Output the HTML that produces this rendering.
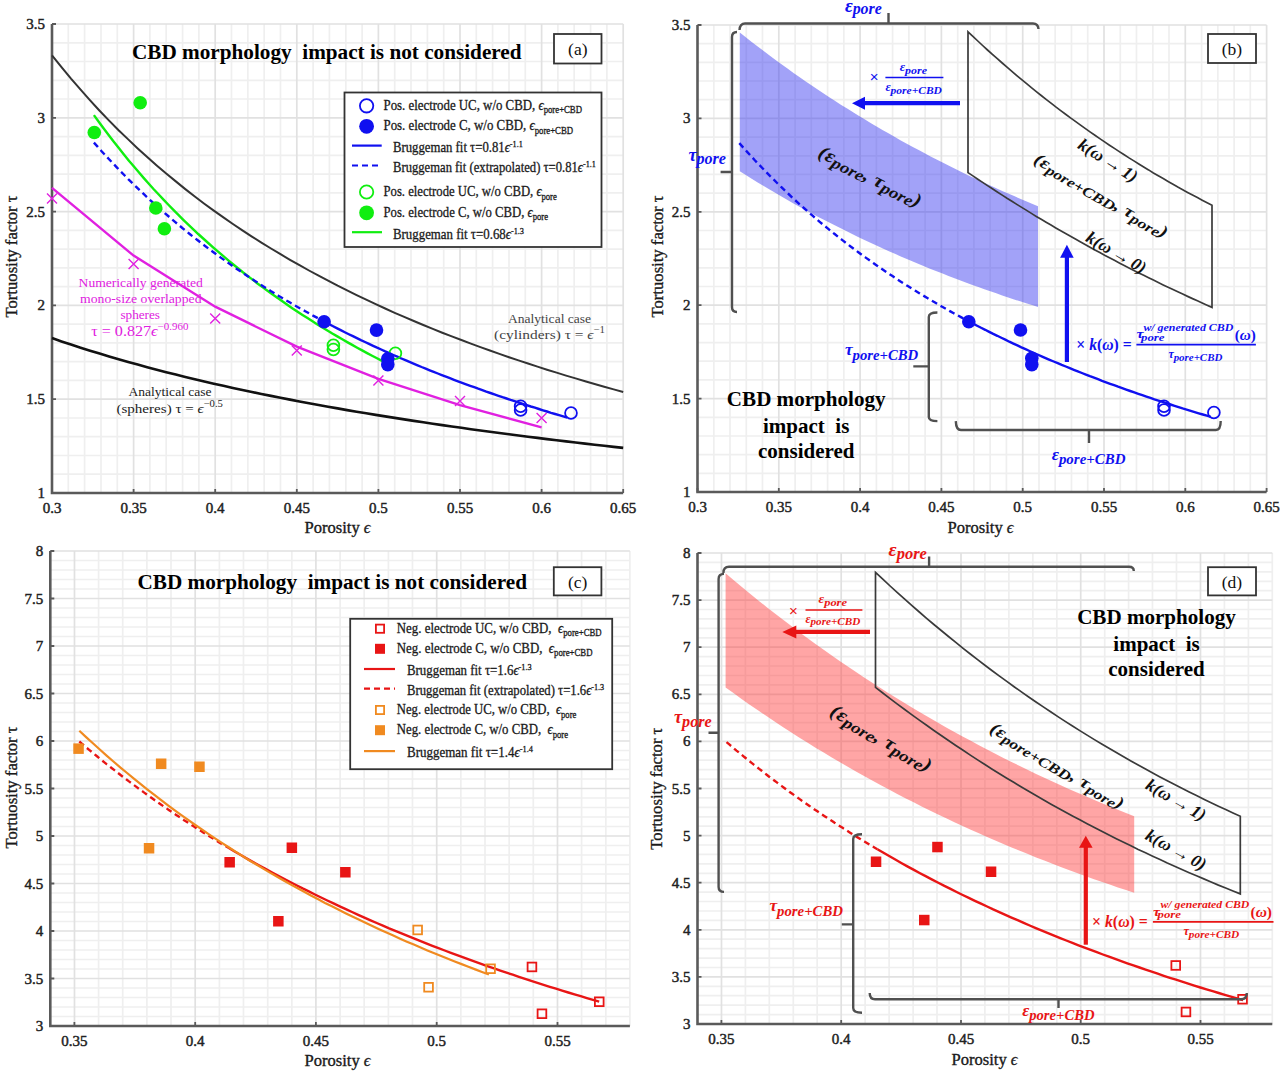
<!DOCTYPE html>
<html><head><meta charset="utf-8"><style>
html,body{margin:0;padding:0;background:#fff;}
svg{display:block;}
</style></head><body>
<svg width="1280" height="1072" viewBox="0 0 1280 1072" style='font-family:"Liberation Serif", serif'>
<rect width="1280" height="1072" fill="#fff"/>
<path d="M68.3 24.0V493.0M84.6 24.0V493.0M101.0 24.0V493.0M117.3 24.0V493.0M149.9 24.0V493.0M166.2 24.0V493.0M182.6 24.0V493.0M198.9 24.0V493.0M231.5 24.0V493.0M247.8 24.0V493.0M264.2 24.0V493.0M280.5 24.0V493.0M313.1 24.0V493.0M329.4 24.0V493.0M345.8 24.0V493.0M362.1 24.0V493.0M394.7 24.0V493.0M411.0 24.0V493.0M427.4 24.0V493.0M443.7 24.0V493.0M476.3 24.0V493.0M492.6 24.0V493.0M509.0 24.0V493.0M525.3 24.0V493.0M557.9 24.0V493.0M574.2 24.0V493.0M590.6 24.0V493.0M606.9 24.0V493.0M52.0 474.2H623.2M52.0 455.5H623.2M52.0 436.7H623.2M52.0 418.0H623.2M52.0 380.4H623.2M52.0 361.7H623.2M52.0 342.9H623.2M52.0 324.2H623.2M52.0 286.6H623.2M52.0 267.9H623.2M52.0 249.1H623.2M52.0 230.4H623.2M52.0 192.8H623.2M52.0 174.1H623.2M52.0 155.3H623.2M52.0 136.6H623.2M52.0 99.0H623.2M52.0 80.3H623.2M52.0 61.5H623.2M52.0 42.8H623.2" stroke="#efefef" stroke-width="1.7" fill="none"/>
<path d="M133.6 24.0V493.0M215.2 24.0V493.0M296.8 24.0V493.0M378.4 24.0V493.0M460.0 24.0V493.0M541.6 24.0V493.0M623.2 24.0V493.0M52.0 399.2H623.2M52.0 305.4H623.2M52.0 211.6H623.2M52.0 117.8H623.2M52.0 24.0H623.2" stroke="#e1e1e1" stroke-width="1.7" fill="none"/>
<path d="M52.0 24.0V493.0H623.2" stroke="#5a5a5a" stroke-width="2.6" fill="none"/>
<path d="M52.0 493.0V489.0M133.6 493.0V489.0M215.2 493.0V489.0M296.8 493.0V489.0M378.4 493.0V489.0M460.0 493.0V489.0M541.6 493.0V489.0M623.2 493.0V489.0M52.0 493.0H56.0M52.0 399.2H56.0M52.0 305.4H56.0M52.0 211.6H56.0M52.0 117.8H56.0M52.0 24.0H56.0" stroke="#5a5a5a" stroke-width="1.8" fill="none"/>
<text x="52.0" y="513.0" font-size="15" text-anchor="middle" fill="#222" stroke="#222" stroke-width="0.45">0.3</text>
<text x="133.6" y="513.0" font-size="15" text-anchor="middle" fill="#222" stroke="#222" stroke-width="0.45">0.35</text>
<text x="215.2" y="513.0" font-size="15" text-anchor="middle" fill="#222" stroke="#222" stroke-width="0.45">0.4</text>
<text x="296.8" y="513.0" font-size="15" text-anchor="middle" fill="#222" stroke="#222" stroke-width="0.45">0.45</text>
<text x="378.4" y="513.0" font-size="15" text-anchor="middle" fill="#222" stroke="#222" stroke-width="0.45">0.5</text>
<text x="460.0" y="513.0" font-size="15" text-anchor="middle" fill="#222" stroke="#222" stroke-width="0.45">0.55</text>
<text x="541.6" y="513.0" font-size="15" text-anchor="middle" fill="#222" stroke="#222" stroke-width="0.45">0.6</text>
<text x="623.2" y="513.0" font-size="15" text-anchor="middle" fill="#222" stroke="#222" stroke-width="0.45">0.65</text>
<text x="45.0" y="498.0" font-size="15" text-anchor="end" fill="#222" stroke="#222" stroke-width="0.45">1</text>
<text x="45.0" y="404.2" font-size="15" text-anchor="end" fill="#222" stroke="#222" stroke-width="0.45">1.5</text>
<text x="45.0" y="310.4" font-size="15" text-anchor="end" fill="#222" stroke="#222" stroke-width="0.45">2</text>
<text x="45.0" y="216.6" font-size="15" text-anchor="end" fill="#222" stroke="#222" stroke-width="0.45">2.5</text>
<text x="45.0" y="122.8" font-size="15" text-anchor="end" fill="#222" stroke="#222" stroke-width="0.45">3</text>
<text x="45.0" y="29.0" font-size="15" text-anchor="end" fill="#222" stroke="#222" stroke-width="0.45">3.5</text>
<polyline points="52.0,55.3 61.5,67.2 71.0,78.7 80.6,89.7 90.1,100.4 99.6,110.7 109.1,120.6 118.6,130.2 128.2,139.4 137.7,148.4 147.2,157.1 156.7,165.5 166.2,173.6 175.8,181.4 185.3,189.1 194.8,196.5 204.3,203.7 213.8,210.6 223.4,217.4 232.9,224.0 242.4,230.4 251.9,236.6 261.4,242.6 271.0,248.5 280.5,254.2 290.0,259.8 299.5,265.2 309.0,270.5 318.6,275.7 328.1,280.7 337.6,285.7 347.1,290.4 356.6,295.1 366.2,299.7 375.7,304.1 385.2,308.5 394.7,312.8 404.2,316.9 413.8,321.0 423.3,325.0 432.8,328.9 442.3,332.7 451.8,336.4 461.4,340.0 470.9,343.6 480.4,347.1 489.9,350.5 499.4,353.9 509.0,357.2 518.5,360.4 528.0,363.5 537.5,366.6 547.0,369.7 556.6,372.6 566.1,375.6 575.6,378.4 585.1,381.2 594.6,384.0 604.2,386.7 613.7,389.4 623.2,392.0" fill="none" stroke="#333" stroke-width="2.0" />
<polyline points="52.0,338.1 61.5,341.4 71.0,344.6 80.6,347.7 90.1,350.7 99.6,353.6 109.1,356.5 118.6,359.3 128.2,362.0 137.7,364.6 147.2,367.2 156.7,369.7 166.2,372.2 175.8,374.6 185.3,376.9 194.8,379.2 204.3,381.5 213.8,383.7 223.4,385.8 232.9,387.9 242.4,390.0 251.9,392.0 261.4,394.0 271.0,395.9 280.5,397.8 290.0,399.6 299.5,401.5 309.0,403.2 318.6,405.0 328.1,406.7 337.6,408.4 347.1,410.1 356.6,411.7 366.2,413.3 375.7,414.9 385.2,416.4 394.7,417.9 404.2,419.4 413.8,420.9 423.3,422.3 432.8,423.7 442.3,425.1 451.8,426.5 461.4,427.8 470.9,429.2 480.4,430.5 489.9,431.8 499.4,433.0 509.0,434.3 518.5,435.5 528.0,436.7 537.5,437.9 547.0,439.1 556.6,440.2 566.1,441.4 575.6,442.5 585.1,443.6 594.6,444.7 604.2,445.8 613.7,446.9 623.2,447.9" fill="none" stroke="#111" stroke-width="2.6" />
<polyline points="52.0,187.8 133.6,255.6 215.2,306.7 296.8,346.7 378.4,378.8 460.0,405.2 541.6,427.3" fill="none" stroke="#e020e0" stroke-width="2.4" />
<path d="M47.0 193.5L57.0 203.5M47.0 203.5L57.0 193.5" stroke="#e020e0" stroke-width="1.4" fill="none"/>
<path d="M128.6 259.1L138.6 269.1M128.6 269.1L138.6 259.1" stroke="#e020e0" stroke-width="1.4" fill="none"/>
<path d="M210.2 313.5L220.2 323.5M210.2 323.5L220.2 313.5" stroke="#e020e0" stroke-width="1.4" fill="none"/>
<path d="M291.8 345.4L301.8 355.4M291.8 355.4L301.8 345.4" stroke="#e020e0" stroke-width="1.4" fill="none"/>
<path d="M373.4 375.4L383.4 385.4M373.4 385.4L383.4 375.4" stroke="#e020e0" stroke-width="1.4" fill="none"/>
<path d="M455.0 396.1L465.0 406.1M455.0 406.1L465.0 396.1" stroke="#e020e0" stroke-width="1.4" fill="none"/>
<path d="M536.6 413.0L546.6 423.0M536.6 423.0L546.6 413.0" stroke="#e020e0" stroke-width="1.4" fill="none"/>
<polyline points="93.9,115.1 98.9,122.0 103.9,128.7 108.8,135.3 113.8,141.8 118.8,148.1 123.7,154.3 128.7,160.4 133.7,166.3 138.6,172.1 143.6,177.9 148.6,183.5 153.5,189.0 158.5,194.3 163.5,199.6 168.4,204.8 173.4,209.9 178.4,214.9 183.3,219.8 188.3,224.6 193.3,229.3 198.2,234.0 203.2,238.5 208.2,243.0 213.1,247.4 218.1,251.7 223.1,255.9 228.0,260.1 233.0,264.2 238.0,268.2 242.9,272.2 247.9,276.1 252.9,279.9 257.8,283.7 262.8,287.4 267.8,291.0 272.7,294.6 277.7,298.1 282.7,301.6 287.6,305.0 292.6,308.4 297.6,311.7 302.5,314.9 307.5,318.1 312.5,321.3 317.4,324.4 322.4,327.5 327.4,330.5 332.3,333.5 337.3,336.4 342.3,339.3 347.2,342.1 352.2,344.9 357.2,347.7 362.1,350.4 367.1,353.1 372.1,355.7 377.0,358.3 382.0,360.9 387.0,363.4 391.9,365.9" fill="none" stroke="#10ee10" stroke-width="2.4" />
<polyline points="93.9,142.6 97.8,146.9 101.6,151.2 105.5,155.4 109.3,159.5 113.2,163.6 117.0,167.6 120.8,171.6 124.7,175.5 128.5,179.4 132.4,183.2 136.2,186.9 140.1,190.6 143.9,194.2 147.7,197.8 151.6,201.4 155.4,204.9 159.3,208.3 163.1,211.7 167.0,215.0 170.8,218.3 174.7,221.6 178.5,224.8 182.3,228.0 186.2,231.1 190.0,234.2 193.9,237.3 197.7,240.3 201.6,243.3 205.4,246.2 209.2,249.1 213.1,252.0 216.9,254.8 220.8,257.6 224.6,260.3 228.5,263.1 232.3,265.8 236.1,268.4 240.0,271.0 243.8,273.6 247.7,276.2 251.5,278.7 255.4,281.2 259.2,283.7 263.1,286.2 266.9,288.6 270.7,291.0 274.6,293.3 278.4,295.7 282.3,298.0 286.1,300.3 290.0,302.5 293.8,304.8 297.6,307.0 301.5,309.1 305.3,311.3 309.2,313.4 313.0,315.6 316.9,317.6 320.7,319.7 324.5,321.8" fill="none" stroke="#1010f0" stroke-width="2.4" stroke-dasharray="6 4" />
<polyline points="324.5,321.8 328.6,323.9 332.6,326.0 336.7,328.1 340.7,330.1 344.8,332.2 348.8,334.2 352.9,336.2 356.9,338.1 360.9,340.1 365.0,342.0 369.0,343.9 373.1,345.8 377.1,347.7 381.2,349.5 385.2,351.4 389.3,353.2 393.3,355.0 397.3,356.7 401.4,358.5 405.4,360.2 409.5,361.9 413.5,363.6 417.6,365.3 421.6,367.0 425.7,368.6 429.7,370.3 433.7,371.9 437.8,373.5 441.8,375.1 445.9,376.7 449.9,378.2 454.0,379.8 458.0,381.3 462.1,382.8 466.1,384.3 470.2,385.8 474.2,387.2 478.2,388.7 482.3,390.1 486.3,391.6 490.4,393.0 494.4,394.4 498.5,395.8 502.5,397.2 506.6,398.5 510.6,399.9 514.6,401.2 518.7,402.5 522.7,403.9 526.8,405.2 530.8,406.5 534.9,407.7 538.9,409.0 543.0,410.3 547.0,411.5 551.0,412.8 555.1,414.0 559.1,415.2 563.2,416.4 567.2,417.6" fill="none" stroke="#1010f0" stroke-width="2.4" />
<circle cx="94.3" cy="132.5" r="6.8" fill="#10ee10"/>
<circle cx="140.2" cy="102.7" r="6.8" fill="#10ee10"/>
<circle cx="155.8" cy="208.0" r="6.8" fill="#10ee10"/>
<circle cx="164.4" cy="228.8" r="6.8" fill="#10ee10"/>
<circle cx="333.4" cy="345.2" r="5.9" fill="none" stroke="#10ee10" stroke-width="1.8"/>
<circle cx="333.4" cy="349.5" r="5.9" fill="none" stroke="#10ee10" stroke-width="1.8"/>
<circle cx="395.4" cy="353.3" r="5.9" fill="none" stroke="#10ee10" stroke-width="1.8"/>
<circle cx="324.1" cy="321.8" r="6.8" fill="#1010f0"/>
<circle cx="376.5" cy="330.1" r="6.8" fill="#1010f0"/>
<circle cx="387.8" cy="358.8" r="6.8" fill="#1010f0"/>
<circle cx="387.8" cy="364.6" r="6.8" fill="#1010f0"/>
<circle cx="520.6" cy="406.2" r="5.9" fill="none" stroke="#1010f0" stroke-width="1.8"/>
<circle cx="520.6" cy="410.0" r="5.9" fill="none" stroke="#1010f0" stroke-width="1.8"/>
<circle cx="571.0" cy="413.0" r="5.9" fill="none" stroke="#1010f0" stroke-width="1.8"/>
<text x="326.8" y="58.5" font-size="21" fill="#000" text-anchor="middle" font-weight="bold" font-style="normal" textLength="389.5" lengthAdjust="spacingAndGlyphs" >CBD morphology&#160; impact is not considered</text>
<rect x="554.0" y="34.0" width="47.5" height="29.5" fill="#fff" stroke="#333" stroke-width="1.8"/>
<text x="577.8" y="55.0" font-size="17.5" fill="#111" text-anchor="middle" font-weight="normal" font-style="normal" >(a)</text>
<rect x="344.5" y="92.5" width="257.0" height="154.5" fill="#fff" stroke="#333" stroke-width="1.8"/>
<circle cx="366.6" cy="105.8" r="6.7" fill="none" stroke="#1010f0" stroke-width="1.8"/>
<text x="383.5" y="109.6" font-size="14" fill="#1a1a1a" text-anchor="start" font-weight="normal" font-style="normal" textLength="198.5" lengthAdjust="spacingAndGlyphs" stroke="#1a1a1a" stroke-width="0.3">Pos. electrode UC, w/o CBD, <tspan font-style="italic">&#1013;</tspan><tspan font-size="9.5" dy="3.5">pore+CBD</tspan></text>
<circle cx="366.6" cy="126.3" r="7.4" fill="#1010f0"/>
<text x="383.5" y="130.0" font-size="14" fill="#1a1a1a" text-anchor="start" font-weight="normal" font-style="normal" textLength="189.6" lengthAdjust="spacingAndGlyphs" stroke="#1a1a1a" stroke-width="0.3">Pos. electrode C, w/o CBD, <tspan font-style="italic">&#1013;</tspan><tspan font-size="9.5" dy="3.5">pore+CBD</tspan></text>
<path d="M352 145.6H381.7" stroke="#1010f0" stroke-width="2.2"/>
<text x="393.0" y="152.0" font-size="14" fill="#1a1a1a" text-anchor="start" font-weight="normal" font-style="normal" textLength="129.8" lengthAdjust="spacingAndGlyphs" stroke="#1a1a1a" stroke-width="0.3">Bruggeman fit &#964;=0.81<tspan font-style="italic">&#1013;</tspan><tspan font-size="9" dy="-5">-1.1</tspan></text>
<path d="M352 165.5H381.7" stroke="#1010f0" stroke-width="2.2" stroke-dasharray="6 4"/>
<text x="393.0" y="172.0" font-size="14" fill="#1a1a1a" text-anchor="start" font-weight="normal" font-style="normal" textLength="202.8" lengthAdjust="spacingAndGlyphs" stroke="#1a1a1a" stroke-width="0.3">Bruggeman fit (extrapolated) &#964;=0.81<tspan font-style="italic">&#1013;</tspan><tspan font-size="9" dy="-5">-1.1</tspan></text>
<circle cx="366.6" cy="192.0" r="6.7" fill="none" stroke="#10ee10" stroke-width="1.8"/>
<text x="383.5" y="196.0" font-size="14" fill="#1a1a1a" text-anchor="start" font-weight="normal" font-style="normal" textLength="173.3" lengthAdjust="spacingAndGlyphs" stroke="#1a1a1a" stroke-width="0.3">Pos. electrode UC, w/o CBD, <tspan font-style="italic">&#1013;</tspan><tspan font-size="9.5" dy="3.5">pore</tspan></text>
<circle cx="366.6" cy="212.8" r="7.4" fill="#10ee10"/>
<text x="383.5" y="216.5" font-size="14" fill="#1a1a1a" text-anchor="start" font-weight="normal" font-style="normal" textLength="164.5" lengthAdjust="spacingAndGlyphs" stroke="#1a1a1a" stroke-width="0.3">Pos. electrode C, w/o CBD, <tspan font-style="italic">&#1013;</tspan><tspan font-size="9.5" dy="3.5">pore</tspan></text>
<path d="M352 232.2H382" stroke="#10ee10" stroke-width="2.2"/>
<text x="393.0" y="239.0" font-size="14" fill="#1a1a1a" text-anchor="start" font-weight="normal" font-style="normal" textLength="131.0" lengthAdjust="spacingAndGlyphs" stroke="#1a1a1a" stroke-width="0.3">Bruggeman fit &#964;=0.68<tspan font-style="italic">&#1013;</tspan><tspan font-size="9" dy="-5">-1.3</tspan></text>
<text x="78.6" y="287.3" font-size="13.5" fill="#e020e0" text-anchor="start" font-weight="normal" font-style="normal" textLength="124.2" lengthAdjust="spacingAndGlyphs" >Numerically generated</text>
<text x="80.1" y="303.4" font-size="13.5" fill="#e020e0" text-anchor="start" font-weight="normal" font-style="normal" textLength="121.4" lengthAdjust="spacingAndGlyphs" >mono-size overlapped</text>
<text x="120.4" y="319.3" font-size="13.5" fill="#e020e0" text-anchor="start" font-weight="normal" font-style="normal" textLength="39.6" lengthAdjust="spacingAndGlyphs" >spheres</text>
<text x="91.2" y="335.6" font-size="14" fill="#e020e0" text-anchor="start" font-weight="normal" font-style="normal" textLength="97.2" lengthAdjust="spacingAndGlyphs" >&#964; = 0.827<tspan font-style="italic">&#1013;</tspan><tspan font-size="9.5" dy="-6">&#8722;0.960</tspan></text>
<text x="128.5" y="396.1" font-size="13.5" fill="#222" text-anchor="start" font-weight="normal" font-style="normal" textLength="83.1" lengthAdjust="spacingAndGlyphs" >Analytical case</text>
<text x="116.4" y="412.5" font-size="13.5" fill="#222" text-anchor="start" font-weight="normal" font-style="normal" textLength="106.5" lengthAdjust="spacingAndGlyphs" >(spheres) &#964; = <tspan font-style="italic">&#1013;</tspan><tspan font-size="9.5" dy="-6">&#8722;0.5</tspan></text>
<text x="508.0" y="323.0" font-size="13.5" fill="#444" text-anchor="start" font-weight="normal" font-style="normal" textLength="83.1" lengthAdjust="spacingAndGlyphs" >Analytical case</text>
<text x="494.0" y="339.4" font-size="13.5" fill="#444" text-anchor="start" font-weight="normal" font-style="normal" textLength="111.0" lengthAdjust="spacingAndGlyphs" >(cylinders) &#964; = <tspan font-style="italic">&#1013;</tspan><tspan font-size="9.5" dy="-6">&#8722;1</tspan></text>
<text x="337.5" y="533.0" font-size="16" fill="#1a1a1a" text-anchor="middle" font-weight="normal" font-style="normal" textLength="66.0" lengthAdjust="spacingAndGlyphs" stroke="#1a1a1a" stroke-width="0.35">Porosity <tspan font-style="italic">&#1013;</tspan></text>
<text x="17.0" y="256.5" font-size="16" fill="#1a1a1a" text-anchor="middle" font-weight="normal" font-style="normal" textLength="122.0" lengthAdjust="spacingAndGlyphs" transform="rotate(-90.00 17.0 256.5)" stroke="#1a1a1a" stroke-width="0.35">Tortuosity factor &#964;</text>
<path d="M713.8 25.0V492.0M730.0 25.0V492.0M746.3 25.0V492.0M762.5 25.0V492.0M795.1 25.0V492.0M811.3 25.0V492.0M827.6 25.0V492.0M843.8 25.0V492.0M876.4 25.0V492.0M892.6 25.0V492.0M908.9 25.0V492.0M925.1 25.0V492.0M957.7 25.0V492.0M973.9 25.0V492.0M990.2 25.0V492.0M1006.4 25.0V492.0M1039.0 25.0V492.0M1055.2 25.0V492.0M1071.5 25.0V492.0M1087.7 25.0V492.0M1120.3 25.0V492.0M1136.5 25.0V492.0M1152.8 25.0V492.0M1169.0 25.0V492.0M1201.6 25.0V492.0M1217.8 25.0V492.0M1234.1 25.0V492.0M1250.3 25.0V492.0M697.5 473.3H1266.6M697.5 454.6H1266.6M697.5 436.0H1266.6M697.5 417.3H1266.6M697.5 379.9H1266.6M697.5 361.2H1266.6M697.5 342.6H1266.6M697.5 323.9H1266.6M697.5 286.5H1266.6M697.5 267.8H1266.6M697.5 249.2H1266.6M697.5 230.5H1266.6M697.5 193.1H1266.6M697.5 174.4H1266.6M697.5 155.8H1266.6M697.5 137.1H1266.6M697.5 99.7H1266.6M697.5 81.0H1266.6M697.5 62.4H1266.6M697.5 43.7H1266.6" stroke="#efefef" stroke-width="1.7" fill="none"/>
<path d="M778.8 25.0V492.0M860.1 25.0V492.0M941.4 25.0V492.0M1022.7 25.0V492.0M1104.0 25.0V492.0M1185.3 25.0V492.0M1266.6 25.0V492.0M697.5 398.6H1266.6M697.5 305.2H1266.6M697.5 211.8H1266.6M697.5 118.4H1266.6M697.5 25.0H1266.6" stroke="#e1e1e1" stroke-width="1.7" fill="none"/>
<path d="M697.5 25.0V492.0H1266.6" stroke="#5a5a5a" stroke-width="2.6" fill="none"/>
<path d="M697.5 492.0V488.0M778.8 492.0V488.0M860.1 492.0V488.0M941.4 492.0V488.0M1022.7 492.0V488.0M1104.0 492.0V488.0M1185.3 492.0V488.0M1266.6 492.0V488.0M697.5 492.0H701.5M697.5 398.6H701.5M697.5 305.2H701.5M697.5 211.8H701.5M697.5 118.4H701.5M697.5 25.0H701.5" stroke="#5a5a5a" stroke-width="1.8" fill="none"/>
<text x="697.5" y="512.0" font-size="15" text-anchor="middle" fill="#222" stroke="#222" stroke-width="0.45">0.3</text>
<text x="778.8" y="512.0" font-size="15" text-anchor="middle" fill="#222" stroke="#222" stroke-width="0.45">0.35</text>
<text x="860.1" y="512.0" font-size="15" text-anchor="middle" fill="#222" stroke="#222" stroke-width="0.45">0.4</text>
<text x="941.4" y="512.0" font-size="15" text-anchor="middle" fill="#222" stroke="#222" stroke-width="0.45">0.45</text>
<text x="1022.7" y="512.0" font-size="15" text-anchor="middle" fill="#222" stroke="#222" stroke-width="0.45">0.5</text>
<text x="1104.0" y="512.0" font-size="15" text-anchor="middle" fill="#222" stroke="#222" stroke-width="0.45">0.55</text>
<text x="1185.3" y="512.0" font-size="15" text-anchor="middle" fill="#222" stroke="#222" stroke-width="0.45">0.6</text>
<text x="1266.6" y="512.0" font-size="15" text-anchor="middle" fill="#222" stroke="#222" stroke-width="0.45">0.65</text>
<text x="690.5" y="497.0" font-size="15" text-anchor="end" fill="#222" stroke="#222" stroke-width="0.45">1</text>
<text x="690.5" y="403.6" font-size="15" text-anchor="end" fill="#222" stroke="#222" stroke-width="0.45">1.5</text>
<text x="690.5" y="310.2" font-size="15" text-anchor="end" fill="#222" stroke="#222" stroke-width="0.45">2</text>
<text x="690.5" y="216.8" font-size="15" text-anchor="end" fill="#222" stroke="#222" stroke-width="0.45">2.5</text>
<text x="690.5" y="123.4" font-size="15" text-anchor="end" fill="#222" stroke="#222" stroke-width="0.45">3</text>
<text x="690.5" y="30.0" font-size="15" text-anchor="end" fill="#222" stroke="#222" stroke-width="0.45">3.5</text>
<path d="M739.8 32.6L745.8 37.3L751.7 42.0L757.7 46.6L763.7 51.1L769.6 55.6L775.6 60.0L781.5 64.3L787.5 68.6L793.5 72.9L799.4 77.1L805.4 81.2L811.4 85.3L817.3 89.3L823.3 93.3L829.3 97.2L835.2 101.1L841.2 104.9L847.2 108.6L853.1 112.3L859.1 116.0L865.0 119.6L871.0 123.2L877.0 126.7L882.9 130.2L888.9 133.6L894.9 137.0L900.8 140.4L906.8 143.7L912.8 146.9L918.7 150.1L924.7 153.3L930.6 156.4L936.6 159.5L942.6 162.6L948.5 165.6L954.5 168.5L960.5 171.5L966.4 174.4L972.4 177.2L978.4 180.0L984.3 182.8L990.3 185.5L996.3 188.2L1002.2 190.9L1008.2 193.5L1014.1 196.1L1020.1 198.7L1026.1 201.2L1032.0 203.7L1038.0 206.2 L1038.0 307.0L1032.0 305.1L1026.1 303.2L1020.1 301.3L1014.1 299.4L1008.2 297.4L1002.2 295.4L996.3 293.3L990.3 291.3L984.3 289.2L978.4 287.1L972.4 284.9L966.4 282.7L960.5 280.5L954.5 278.2L948.5 275.9L942.6 273.6L936.6 271.3L930.6 268.9L924.7 266.5L918.7 264.0L912.8 261.5L906.8 259.0L900.8 256.4L894.9 253.8L888.9 251.2L882.9 248.5L877.0 245.8L871.0 243.0L865.0 240.2L859.1 237.4L853.1 234.5L847.2 231.6L841.2 228.6L835.2 225.6L829.3 222.6L823.3 219.5L817.3 216.4L811.4 213.2L805.4 210.0L799.4 206.7L793.5 203.4L787.5 200.0L781.5 196.6L775.6 193.1L769.6 189.6L763.7 186.0L757.7 182.4L751.7 178.7L745.8 175.0L739.8 171.2 Z" fill="#3535f0" fill-opacity="0.46"/>
<path d="M968.0 31.8L972.9 36.4L977.8 41.0L982.6 45.5L987.5 50.0L992.4 54.4L997.3 58.7L1002.2 63.0L1007.0 67.2L1011.9 71.4L1016.8 75.6L1021.7 79.7L1026.6 83.7L1031.4 87.7L1036.3 91.6L1041.2 95.5L1046.1 99.3L1051.0 103.1L1055.8 106.9L1060.7 110.6L1065.6 114.2L1070.5 117.9L1075.4 121.4L1080.2 124.9L1085.1 128.4L1090.0 131.9L1094.9 135.3L1099.8 138.6L1104.6 141.9L1109.5 145.2L1114.4 148.4L1119.3 151.6L1124.2 154.8L1129.0 157.9L1133.9 160.9L1138.8 164.0L1143.7 167.0L1148.6 169.9L1153.4 172.9L1158.3 175.8L1163.2 178.6L1168.1 181.4L1173.0 184.2L1177.8 187.0L1182.7 189.7L1187.6 192.4L1192.5 195.0L1197.4 197.6L1202.2 200.2L1207.1 202.8L1212.0 205.3 L1212.0 307.4L1207.1 305.2L1202.2 303.0L1197.4 300.8L1192.5 298.6L1187.6 296.4L1182.7 294.1L1177.8 291.8L1173.0 289.5L1168.1 287.2L1163.2 284.9L1158.3 282.5L1153.4 280.1L1148.6 277.7L1143.7 275.3L1138.8 272.9L1133.9 270.4L1129.0 267.9L1124.2 265.4L1119.3 262.9L1114.4 260.3L1109.5 257.7L1104.6 255.2L1099.8 252.5L1094.9 249.9L1090.0 247.2L1085.1 244.5L1080.2 241.8L1075.4 239.1L1070.5 236.3L1065.6 233.6L1060.7 230.8L1055.8 227.9L1051.0 225.1L1046.1 222.2L1041.2 219.3L1036.3 216.4L1031.4 213.4L1026.6 210.4L1021.7 207.4L1016.8 204.4L1011.9 201.3L1007.0 198.3L1002.2 195.1L997.3 192.0L992.4 188.8L987.5 185.6L982.6 182.4L977.8 179.2L972.9 175.9L968.0 172.6 Z" fill="none" stroke="#3a3a3a" stroke-width="1.7"/>
<polyline points="739.3,143.1 743.1,147.4 746.9,151.6 750.8,155.8 754.6,160.0 758.4,164.0 762.3,168.0 766.1,172.0 769.9,175.9 773.8,179.7 777.6,183.5 781.4,187.2 785.2,190.9 789.1,194.5 792.9,198.1 796.7,201.6 800.6,205.1 804.4,208.5 808.2,211.9 812.0,215.2 815.9,218.5 819.7,221.8 823.5,225.0 827.4,228.1 831.2,231.3 835.0,234.3 838.8,237.4 842.7,240.4 846.5,243.3 850.3,246.3 854.2,249.1 858.0,252.0 861.8,254.8 865.7,257.6 869.5,260.3 873.3,263.1 877.1,265.7 881.0,268.4 884.8,271.0 888.6,273.6 892.5,276.1 896.3,278.7 900.1,281.2 903.9,283.6 907.8,286.1 911.6,288.5 915.4,290.8 919.3,293.2 923.1,295.5 926.9,297.8 930.7,300.1 934.6,302.3 938.4,304.6 942.2,306.8 946.1,308.9 949.9,311.1 953.7,313.2 957.6,315.3 961.4,317.4 965.2,319.5 969.0,321.5" fill="none" stroke="#1010f0" stroke-width="2.4" stroke-dasharray="6 4" />
<polyline points="969.0,321.5 973.1,323.6 977.1,325.7 981.1,327.8 985.2,329.8 989.2,331.9 993.2,333.9 997.3,335.8 1001.3,337.8 1005.3,339.7 1009.3,341.7 1013.4,343.6 1017.4,345.4 1021.4,347.3 1025.5,349.1 1029.5,351.0 1033.5,352.8 1037.5,354.5 1041.6,356.3 1045.6,358.1 1049.6,359.8 1053.7,361.5 1057.7,363.2 1061.7,364.9 1065.8,366.5 1069.8,368.2 1073.8,369.8 1077.8,371.4 1081.9,373.0 1085.9,374.6 1089.9,376.2 1094.0,377.7 1098.0,379.2 1102.0,380.8 1106.1,382.3 1110.1,383.8 1114.1,385.2 1118.1,386.7 1122.2,388.1 1126.2,389.6 1130.2,391.0 1134.3,392.4 1138.3,393.8 1142.3,395.2 1146.4,396.6 1150.4,397.9 1154.4,399.3 1158.4,400.6 1162.5,401.9 1166.5,403.2 1170.5,404.5 1174.6,405.8 1178.6,407.1 1182.6,408.4 1186.6,409.6 1190.7,410.9 1194.7,412.1 1198.7,413.3 1202.8,414.5 1206.8,415.7 1210.8,416.9" fill="none" stroke="#1010f0" stroke-width="2.4" />
<circle cx="968.8" cy="321.8" r="6.8" fill="#1010f0"/>
<circle cx="1020.5" cy="330.0" r="6.8" fill="#1010f0"/>
<circle cx="1031.8" cy="358.3" r="6.8" fill="#1010f0"/>
<circle cx="1031.8" cy="364.6" r="6.8" fill="#1010f0"/>
<circle cx="1164.0" cy="406.2" r="5.9" fill="none" stroke="#1010f0" stroke-width="1.8"/>
<circle cx="1164.0" cy="410.0" r="5.9" fill="none" stroke="#1010f0" stroke-width="1.8"/>
<circle cx="1213.9" cy="412.5" r="5.9" fill="none" stroke="#1010f0" stroke-width="1.8"/>
<path d="M739.5 30 Q740 23.5 745 23.5 H1033 Q1038 23.5 1038.5 29 M888.5 23.5 V13" stroke="#505050" stroke-width="2.4" fill="none"/>
<path d="M737 32 Q732 32 732 37 V307 Q732 312 737 312 M720.6 172 H732" stroke="#505050" stroke-width="2.4" fill="none"/>
<path d="M937.4 312.5 Q928.8 312.5 928.8 317 V417 Q928.8 421.1 937.4 421.1 M913.3 366.4 H928.8" stroke="#505050" stroke-width="2.4" fill="none"/>
<path d="M955.8 421.1 Q956 430 961 430 H1216 Q1220.7 430 1220.7 421 M1089 430 V443" stroke="#505050" stroke-width="2.4" fill="none"/>
<text x="844.9" y="11.5" font-size="19" fill="#1010f0" text-anchor="start" font-weight="bold" font-style="italic" textLength="36.9" lengthAdjust="spacingAndGlyphs" >&#949;<tspan font-size="16.0" dy="2.5">pore</tspan></text>
<text x="688.4" y="160.6" font-size="18" fill="#1010f0" text-anchor="start" font-weight="bold" font-style="italic" textLength="37.6" lengthAdjust="spacingAndGlyphs" >&#964;<tspan font-size="16.0" dy="3.8">pore</tspan></text>
<text x="844.9" y="355.0" font-size="17" fill="#1010f0" text-anchor="start" font-weight="bold" font-style="italic" textLength="73.3" lengthAdjust="spacingAndGlyphs" >&#964;<tspan font-size="14.5" dy="5.0">pore+CBD</tspan></text>
<text x="1051.7" y="459.5" font-size="17" fill="#1010f0" text-anchor="start" font-weight="bold" font-style="italic" textLength="73.8" lengthAdjust="spacingAndGlyphs" >&#949;<tspan font-size="14.5" dy="4.0">pore+CBD</tspan></text>
<path d="M960.0 103.2 H864.0" stroke="#1010f0" stroke-width="4.2"/>
<path d="M852.0 103.2 L865.0 96.7 L865.0 109.7 Z" fill="#1010f0"/>
<text x="874.1" y="81.5" font-size="15" fill="#1010f0" text-anchor="middle" font-weight="normal" font-style="normal" font-family='"Liberation Sans", sans-serif' >&#215;</text>
<path d="M885.4 77.5 H943.4" stroke="#1010f0" stroke-width="1.6"/>
<text x="899.8" y="71.0" font-size="12" fill="#1010f0" text-anchor="start" font-weight="bold" font-style="italic" textLength="27.2" lengthAdjust="spacingAndGlyphs" >&#949;<tspan font-size="11.0" dy="2.5">pore</tspan></text>
<text x="885.4" y="91.0" font-size="12" fill="#1010f0" text-anchor="start" font-weight="bold" font-style="italic" textLength="56.5" lengthAdjust="spacingAndGlyphs" >&#949;<tspan font-size="11.0" dy="2.5">pore+CBD</tspan></text>
<path d="M1066.9 362.0 V256.8" stroke="#1010f0" stroke-width="4.2"/>
<path d="M1066.9 244.8 L1060.1 257.8 L1073.7 257.8 Z" fill="#1010f0"/>
<text x="1076.3" y="350.2" font-size="17" fill="#1010f0" text-anchor="start" font-weight="bold" font-style="normal" textLength="55.4" lengthAdjust="spacingAndGlyphs" >&#215; <tspan font-style="italic">k</tspan>(<tspan font-style="italic">&#969;</tspan>) =</text>
<path d="M1136.4 344.7 H1255.9" stroke="#1010f0" stroke-width="1.8"/>
<text x="1136.4" y="338.4" font-size="13" fill="#1010f0" text-anchor="start" font-weight="bold" font-style="italic" textLength="7.0" lengthAdjust="spacingAndGlyphs" >&#964;</text>
<text x="1141.0" y="340.5" font-size="10" fill="#1010f0" text-anchor="start" font-weight="bold" font-style="italic" textLength="23.5" lengthAdjust="spacingAndGlyphs" >pore</text>
<text x="1143.4" y="330.6" font-size="10" fill="#1010f0" text-anchor="start" font-weight="bold" font-style="italic" textLength="89.9" lengthAdjust="spacingAndGlyphs" >w/ generated CBD</text>
<text x="1234.8" y="340.0" font-size="15" fill="#1010f0" text-anchor="start" font-weight="bold" font-style="normal" textLength="21.1" lengthAdjust="spacingAndGlyphs" >(<tspan font-style="italic">&#969;</tspan>)</text>
<text x="1168.4" y="358.0" font-size="12" fill="#1010f0" text-anchor="start" font-weight="bold" font-style="italic" textLength="53.9" lengthAdjust="spacingAndGlyphs" >&#964;<tspan font-size="11.0" dy="3.0">pore+CBD</tspan></text>
<text x="870.0" y="182.5" font-size="19" fill="#111" text-anchor="middle" font-weight="bold" font-style="italic" textLength="113.0" lengthAdjust="spacingAndGlyphs" transform="rotate(27.00 870.0 176.8)" >(&#949;<tspan font-size="16" dy="3">pore</tspan><tspan dy="-3">, &#964;</tspan><tspan font-size="16" dy="3">pore</tspan><tspan dy="-3">)</tspan></text>
<text x="1107.8" y="166.1" font-size="17.5" fill="#111" text-anchor="middle" font-weight="bold" font-style="italic" transform="rotate(32.00 1107.8 160.8)" >k(&#969;<tspan font-family="Liberation Sans" font-size="17.5" font-weight="normal">&#8201;&#8594;&#8201;</tspan>1)</text>
<text x="1101.0" y="200.9" font-size="17" fill="#111" text-anchor="middle" font-weight="bold" font-style="italic" textLength="151.8" lengthAdjust="spacingAndGlyphs" transform="rotate(30.00 1101.0 195.8)" >(&#949;<tspan font-size="14" dy="3">pore+CBD</tspan><tspan dy="-3">, &#964;</tspan><tspan font-size="14" dy="3">pore</tspan><tspan dy="-3">)</tspan></text>
<text x="1116.0" y="258.2" font-size="17.5" fill="#111" text-anchor="middle" font-weight="bold" font-style="italic" transform="rotate(30.30 1116.0 253.0)" >k(&#969;<tspan font-family="Liberation Sans" font-size="17.5" font-weight="normal">&#8201;&#8594;&#8201;</tspan>0)</text>
<text x="806.2" y="406.0" font-size="21" fill="#000" text-anchor="middle" font-weight="bold" font-style="normal" textLength="158.7" lengthAdjust="spacingAndGlyphs" >CBD morphology</text>
<text x="806.2" y="432.6" font-size="21" fill="#000" text-anchor="middle" font-weight="bold" font-style="normal" >impact&#160; is</text>
<text x="806.2" y="457.8" font-size="21" fill="#000" text-anchor="middle" font-weight="bold" font-style="normal" >considered</text>
<rect x="1208.0" y="34.0" width="48.0" height="29.0" fill="#fff" stroke="#333" stroke-width="1.8"/>
<text x="1232.0" y="55.0" font-size="17.5" fill="#111" text-anchor="middle" font-weight="normal" font-style="normal" >(b)</text>
<text x="980.5" y="533.0" font-size="16" fill="#1a1a1a" text-anchor="middle" font-weight="normal" font-style="normal" textLength="66.0" lengthAdjust="spacingAndGlyphs" stroke="#1a1a1a" stroke-width="0.35">Porosity <tspan font-style="italic">&#1013;</tspan></text>
<text x="662.5" y="256.5" font-size="16" fill="#1a1a1a" text-anchor="middle" font-weight="normal" font-style="normal" textLength="122.0" lengthAdjust="spacingAndGlyphs" transform="rotate(-90.00 662.5 256.5)" stroke="#1a1a1a" stroke-width="0.35">Tortuosity factor &#964;</text>
<path d="M98.6 551.0V1026.0M122.7 551.0V1026.0M146.9 551.0V1026.0M171.0 551.0V1026.0M219.4 551.0V1026.0M243.5 551.0V1026.0M267.7 551.0V1026.0M291.8 551.0V1026.0M340.1 551.0V1026.0M364.2 551.0V1026.0M388.4 551.0V1026.0M412.5 551.0V1026.0M460.8 551.0V1026.0M485.0 551.0V1026.0M509.2 551.0V1026.0M533.3 551.0V1026.0M581.6 551.0V1026.0M605.8 551.0V1026.0M629.9 551.0V1026.0M50.3 1016.5H629.9M50.3 1007.0H629.9M50.3 997.5H629.9M50.3 988.0H629.9M50.3 969.0H629.9M50.3 959.5H629.9M50.3 950.0H629.9M50.3 940.5H629.9M50.3 921.5H629.9M50.3 912.0H629.9M50.3 902.5H629.9M50.3 893.0H629.9M50.3 874.0H629.9M50.3 864.5H629.9M50.3 855.0H629.9M50.3 845.5H629.9M50.3 826.5H629.9M50.3 817.0H629.9M50.3 807.5H629.9M50.3 798.0H629.9M50.3 779.0H629.9M50.3 769.5H629.9M50.3 760.0H629.9M50.3 750.5H629.9M50.3 731.5H629.9M50.3 722.0H629.9M50.3 712.5H629.9M50.3 703.0H629.9M50.3 684.0H629.9M50.3 674.5H629.9M50.3 665.0H629.9M50.3 655.5H629.9M50.3 636.5H629.9M50.3 627.0H629.9M50.3 617.5H629.9M50.3 608.0H629.9M50.3 589.0H629.9M50.3 579.5H629.9M50.3 570.0H629.9M50.3 560.5H629.9" stroke="#efefef" stroke-width="1.7" fill="none"/>
<path d="M74.5 551.0V1026.0M195.2 551.0V1026.0M315.9 551.0V1026.0M436.7 551.0V1026.0M557.5 551.0V1026.0M50.3 978.5H629.9M50.3 931.0H629.9M50.3 883.5H629.9M50.3 836.0H629.9M50.3 788.5H629.9M50.3 741.0H629.9M50.3 693.5H629.9M50.3 646.0H629.9M50.3 598.5H629.9M50.3 551.0H629.9" stroke="#e1e1e1" stroke-width="1.7" fill="none"/>
<path d="M50.3 551.0V1026.0H629.9" stroke="#5a5a5a" stroke-width="2.6" fill="none"/>
<path d="M74.4 1026.0V1022.0M195.2 1026.0V1022.0M315.9 1026.0V1022.0M436.7 1026.0V1022.0M557.5 1026.0V1022.0M50.3 1026.0H54.3M50.3 978.5H54.3M50.3 931.0H54.3M50.3 883.5H54.3M50.3 836.0H54.3M50.3 788.5H54.3M50.3 741.0H54.3M50.3 693.5H54.3M50.3 646.0H54.3M50.3 598.5H54.3M50.3 551.0H54.3" stroke="#5a5a5a" stroke-width="1.8" fill="none"/>
<text x="74.4" y="1046.0" font-size="15" text-anchor="middle" fill="#222" stroke="#222" stroke-width="0.45">0.35</text>
<text x="195.2" y="1046.0" font-size="15" text-anchor="middle" fill="#222" stroke="#222" stroke-width="0.45">0.4</text>
<text x="315.9" y="1046.0" font-size="15" text-anchor="middle" fill="#222" stroke="#222" stroke-width="0.45">0.45</text>
<text x="436.7" y="1046.0" font-size="15" text-anchor="middle" fill="#222" stroke="#222" stroke-width="0.45">0.5</text>
<text x="557.5" y="1046.0" font-size="15" text-anchor="middle" fill="#222" stroke="#222" stroke-width="0.45">0.55</text>
<text x="43.3" y="1031.0" font-size="15" text-anchor="end" fill="#222" stroke="#222" stroke-width="0.45">3</text>
<text x="43.3" y="983.5" font-size="15" text-anchor="end" fill="#222" stroke="#222" stroke-width="0.45">3.5</text>
<text x="43.3" y="936.0" font-size="15" text-anchor="end" fill="#222" stroke="#222" stroke-width="0.45">4</text>
<text x="43.3" y="888.5" font-size="15" text-anchor="end" fill="#222" stroke="#222" stroke-width="0.45">4.5</text>
<text x="43.3" y="841.0" font-size="15" text-anchor="end" fill="#222" stroke="#222" stroke-width="0.45">5</text>
<text x="43.3" y="793.5" font-size="15" text-anchor="end" fill="#222" stroke="#222" stroke-width="0.45">5.5</text>
<text x="43.3" y="746.0" font-size="15" text-anchor="end" fill="#222" stroke="#222" stroke-width="0.45">6</text>
<text x="43.3" y="698.5" font-size="15" text-anchor="end" fill="#222" stroke="#222" stroke-width="0.45">6.5</text>
<text x="43.3" y="651.0" font-size="15" text-anchor="end" fill="#222" stroke="#222" stroke-width="0.45">7</text>
<text x="43.3" y="603.5" font-size="15" text-anchor="end" fill="#222" stroke="#222" stroke-width="0.45">7.5</text>
<text x="43.3" y="556.0" font-size="15" text-anchor="end" fill="#222" stroke="#222" stroke-width="0.45">8</text>
<polyline points="79.3,741.5 81.8,743.6 84.3,745.7 86.7,747.8 89.2,749.9 91.7,751.9 94.2,754.0 96.7,756.0 99.2,758.1 101.6,760.1 104.1,762.1 106.6,764.1 109.1,766.0 111.6,768.0 114.1,769.9 116.6,771.9 119.0,773.8 121.5,775.7 124.0,777.6 126.5,779.5 129.0,781.4 131.5,783.2 134.0,785.1 136.4,786.9 138.9,788.8 141.4,790.6 143.9,792.4 146.4,794.2 148.9,796.0 151.4,797.8 153.8,799.5 156.3,801.3 158.8,803.0 161.3,804.8 163.8,806.5 166.3,808.2 168.8,809.9 171.2,811.6 173.7,813.3 176.2,814.9 178.7,816.6 181.2,818.2 183.7,819.9 186.2,821.5 188.6,823.1 191.1,824.7 193.6,826.3 196.1,827.9 198.6,829.5 201.1,831.1 203.6,832.7 206.0,834.2 208.5,835.8 211.0,837.3 213.5,838.8 216.0,840.3 218.5,841.9 220.9,843.4 223.4,844.9 225.9,846.3 228.4,847.8" fill="none" stroke="#e81515" stroke-width="2.4" stroke-dasharray="6 4" />
<polyline points="228.4,847.8 234.6,851.5 240.8,855.0 246.9,858.6 253.1,862.1 259.3,865.5 265.5,868.9 271.7,872.3 277.8,875.6 284.0,878.8 290.2,882.0 296.4,885.2 302.6,888.4 308.8,891.4 314.9,894.5 321.1,897.5 327.3,900.5 333.5,903.4 339.7,906.3 345.8,909.2 352.0,912.0 358.2,914.8 364.4,917.6 370.6,920.3 376.7,923.0 382.9,925.6 389.1,928.3 395.3,930.8 401.5,933.4 407.6,935.9 413.8,938.4 420.0,940.9 426.2,943.4 432.4,945.8 438.5,948.1 444.7,950.5 450.9,952.8 457.1,955.1 463.3,957.4 469.4,959.7 475.6,961.9 481.8,964.1 488.0,966.3 494.2,968.4 500.3,970.6 506.5,972.7 512.7,974.7 518.9,976.8 525.1,978.8 531.2,980.9 537.4,982.9 543.6,984.8 549.8,986.8 556.0,988.7 562.1,990.6 568.3,992.5 574.5,994.4 580.7,996.2 586.9,998.1 593.0,999.9 599.2,1001.7" fill="none" stroke="#e81515" stroke-width="2.4" />
<polyline points="79.3,730.7 86.1,737.1 92.9,743.3 99.8,749.5 106.6,755.6 113.4,761.5 120.2,767.3 127.1,773.0 133.9,778.7 140.7,784.2 147.5,789.6 154.4,794.9 161.2,800.1 168.0,805.3 174.8,810.3 181.7,815.3 188.5,820.2 195.3,825.0 202.2,829.7 209.0,834.4 215.8,838.9 222.6,843.4 229.5,847.8 236.3,852.2 243.1,856.4 249.9,860.7 256.8,864.8 263.6,868.9 270.4,872.9 277.2,876.8 284.1,880.7 290.9,884.6 297.7,888.3 304.6,892.0 311.4,895.7 318.2,899.3 325.0,902.9 331.9,906.3 338.7,909.8 345.5,913.2 352.3,916.5 359.2,919.8 366.0,923.1 372.8,926.3 379.6,929.5 386.5,932.6 393.3,935.6 400.1,938.7 406.9,941.7 413.8,944.6 420.6,947.5 427.4,950.4 434.3,953.2 441.1,956.0 447.9,958.8 454.7,961.5 461.6,964.1 468.4,966.8 475.2,969.4 482.0,972.0 488.9,974.5" fill="none" stroke="#f08a20" stroke-width="2.2" />
<rect x="73.3" y="743.4" width="10.5" height="10.5" fill="#f08a20"/>
<rect x="155.9" y="758.5" width="10.5" height="10.5" fill="#f08a20"/>
<rect x="194.2" y="761.5" width="10.5" height="10.5" fill="#f08a20"/>
<rect x="143.8" y="843.0" width="10.5" height="10.5" fill="#f08a20"/>
<rect x="224.4" y="857.0" width="10.5" height="10.5" fill="#e81515"/>
<rect x="286.6" y="842.5" width="10.5" height="10.5" fill="#e81515"/>
<rect x="273.1" y="916.0" width="10.5" height="10.5" fill="#e81515"/>
<rect x="340.1" y="867.0" width="10.5" height="10.5" fill="#e81515"/>
<rect x="413.3" y="925.6" width="8.7" height="8.7" fill="none" stroke="#f08a20" stroke-width="1.8"/>
<rect x="424.2" y="982.9" width="8.7" height="8.7" fill="none" stroke="#f08a20" stroke-width="1.8"/>
<rect x="486.2" y="964.4" width="8.7" height="8.7" fill="none" stroke="#f08a20" stroke-width="1.8"/>
<rect x="527.6" y="962.6" width="8.7" height="8.7" fill="none" stroke="#e81515" stroke-width="1.8"/>
<rect x="537.6" y="1009.4" width="8.7" height="8.7" fill="none" stroke="#e81515" stroke-width="1.8"/>
<rect x="594.9" y="997.4" width="8.7" height="8.7" fill="none" stroke="#e81515" stroke-width="1.8"/>
<text x="332.2" y="589.0" font-size="21" fill="#000" text-anchor="middle" font-weight="bold" font-style="normal" textLength="389.5" lengthAdjust="spacingAndGlyphs" >CBD morphology&#160; impact is not considered</text>
<rect x="553.8" y="567.2" width="47.6" height="28.2" fill="#fff" stroke="#333" stroke-width="1.8"/>
<text x="577.6" y="588.0" font-size="17.5" fill="#111" text-anchor="middle" font-weight="normal" font-style="normal" >(c)</text>
<rect x="350.2" y="618.8" width="262.0" height="150.4" fill="#fff" stroke="#333" stroke-width="1.8"/>
<rect x="375.9" y="624.6" width="8.2" height="8.2" fill="none" stroke="#e81515" stroke-width="1.8"/>
<text x="396.8" y="632.7" font-size="14" fill="#1a1a1a" text-anchor="start" font-weight="normal" font-style="normal" textLength="204.8" lengthAdjust="spacingAndGlyphs" stroke="#1a1a1a" stroke-width="0.3">Neg. electrode UC, w/o CBD,&#160; <tspan font-style="italic">&#1013;</tspan><tspan font-size="9.5" dy="3.5">pore+CBD</tspan></text>
<rect x="375.0" y="643.8" width="10.0" height="10.0" fill="#e81515"/>
<text x="396.8" y="652.8" font-size="14" fill="#1a1a1a" text-anchor="start" font-weight="normal" font-style="normal" textLength="195.7" lengthAdjust="spacingAndGlyphs" stroke="#1a1a1a" stroke-width="0.3">Neg. electrode C, w/o CBD,&#160; <tspan font-style="italic">&#1013;</tspan><tspan font-size="9.5" dy="3.5">pore+CBD</tspan></text>
<path d="M364 669.0H395" stroke="#e81515" stroke-width="2.2"/>
<text x="407.0" y="675.0" font-size="14" fill="#1a1a1a" text-anchor="start" font-weight="normal" font-style="normal" textLength="124.7" lengthAdjust="spacingAndGlyphs" stroke="#1a1a1a" stroke-width="0.3">Bruggeman fit &#964;=1.6<tspan font-style="italic">&#1013;</tspan><tspan font-size="9" dy="-5">-1.3</tspan></text>
<path d="M364 688.6H395" stroke="#e81515" stroke-width="2.2" stroke-dasharray="6 4"/>
<text x="407.0" y="694.6" font-size="14" fill="#1a1a1a" text-anchor="start" font-weight="normal" font-style="normal" textLength="197.2" lengthAdjust="spacingAndGlyphs" stroke="#1a1a1a" stroke-width="0.3">Bruggeman fit (extrapolated) &#964;=1.6<tspan font-style="italic">&#1013;</tspan><tspan font-size="9" dy="-5">-1.3</tspan></text>
<rect x="375.9" y="705.9" width="8.2" height="8.2" fill="none" stroke="#f08a20" stroke-width="1.8"/>
<text x="396.8" y="714.0" font-size="14" fill="#1a1a1a" text-anchor="start" font-weight="normal" font-style="normal" textLength="179.6" lengthAdjust="spacingAndGlyphs" stroke="#1a1a1a" stroke-width="0.3">Neg. electrode UC, w/o CBD,&#160; <tspan font-style="italic">&#1013;</tspan><tspan font-size="9.5" dy="3.5">pore</tspan></text>
<rect x="375.0" y="725.2" width="10.0" height="10.0" fill="#f08a20"/>
<text x="396.8" y="734.2" font-size="14" fill="#1a1a1a" text-anchor="start" font-weight="normal" font-style="normal" textLength="171.3" lengthAdjust="spacingAndGlyphs" stroke="#1a1a1a" stroke-width="0.3">Neg. electrode C, w/o CBD,&#160; <tspan font-style="italic">&#1013;</tspan><tspan font-size="9.5" dy="3.5">pore</tspan></text>
<path d="M364 751.1H395" stroke="#f08a20" stroke-width="2.2"/>
<text x="407.0" y="757.1" font-size="14" fill="#1a1a1a" text-anchor="start" font-weight="normal" font-style="normal" textLength="125.9" lengthAdjust="spacingAndGlyphs" stroke="#1a1a1a" stroke-width="0.3">Bruggeman fit &#964;=1.4<tspan font-style="italic">&#1013;</tspan><tspan font-size="9" dy="-5">-1.4</tspan></text>
<text x="337.5" y="1066.3" font-size="16" fill="#1a1a1a" text-anchor="middle" font-weight="normal" font-style="normal" textLength="66.0" lengthAdjust="spacingAndGlyphs" stroke="#1a1a1a" stroke-width="0.35">Porosity <tspan font-style="italic">&#1013;</tspan></text>
<text x="17.0" y="787.5" font-size="16" fill="#1a1a1a" text-anchor="middle" font-weight="normal" font-style="normal" textLength="122.0" lengthAdjust="spacingAndGlyphs" transform="rotate(-90.00 17.0 787.5)" stroke="#1a1a1a" stroke-width="0.35">Tortuosity factor &#964;</text>
<path d="M745.4 553.0V1024.0M769.3 553.0V1024.0M793.3 553.0V1024.0M817.2 553.0V1024.0M865.1 553.0V1024.0M889.1 553.0V1024.0M913.1 553.0V1024.0M937.0 553.0V1024.0M984.9 553.0V1024.0M1008.9 553.0V1024.0M1032.8 553.0V1024.0M1056.8 553.0V1024.0M1104.7 553.0V1024.0M1128.6 553.0V1024.0M1152.5 553.0V1024.0M1176.5 553.0V1024.0M1224.4 553.0V1024.0M1248.4 553.0V1024.0M1272.3 553.0V1024.0M697.5 1014.6H1272.3M697.5 1005.2H1272.3M697.5 995.7H1272.3M697.5 986.3H1272.3M697.5 967.5H1272.3M697.5 958.1H1272.3M697.5 948.6H1272.3M697.5 939.2H1272.3M697.5 920.4H1272.3M697.5 911.0H1272.3M697.5 901.5H1272.3M697.5 892.1H1272.3M697.5 873.3H1272.3M697.5 863.9H1272.3M697.5 854.4H1272.3M697.5 845.0H1272.3M697.5 826.2H1272.3M697.5 816.8H1272.3M697.5 807.3H1272.3M697.5 797.9H1272.3M697.5 779.1H1272.3M697.5 769.7H1272.3M697.5 760.2H1272.3M697.5 750.8H1272.3M697.5 732.0H1272.3M697.5 722.6H1272.3M697.5 713.1H1272.3M697.5 703.7H1272.3M697.5 684.9H1272.3M697.5 675.5H1272.3M697.5 666.0H1272.3M697.5 656.6H1272.3M697.5 637.8H1272.3M697.5 628.4H1272.3M697.5 618.9H1272.3M697.5 609.5H1272.3M697.5 590.7H1272.3M697.5 581.3H1272.3M697.5 571.8H1272.3M697.5 562.4H1272.3" stroke="#efefef" stroke-width="1.7" fill="none"/>
<path d="M721.5 553.0V1024.0M841.2 553.0V1024.0M961.0 553.0V1024.0M1080.7 553.0V1024.0M1200.5 553.0V1024.0M697.5 976.9H1272.3M697.5 929.8H1272.3M697.5 882.7H1272.3M697.5 835.6H1272.3M697.5 788.5H1272.3M697.5 741.4H1272.3M697.5 694.3H1272.3M697.5 647.2H1272.3M697.5 600.1H1272.3M697.5 553.0H1272.3" stroke="#e1e1e1" stroke-width="1.7" fill="none"/>
<path d="M697.5 553.0V1024.0H1272.3" stroke="#5a5a5a" stroke-width="2.6" fill="none"/>
<path d="M721.4 1024.0V1020.0M841.2 1024.0V1020.0M961.0 1024.0V1020.0M1080.7 1024.0V1020.0M1200.5 1024.0V1020.0M697.5 1024.0H701.5M697.5 976.9H701.5M697.5 929.8H701.5M697.5 882.7H701.5M697.5 835.6H701.5M697.5 788.5H701.5M697.5 741.4H701.5M697.5 694.3H701.5M697.5 647.2H701.5M697.5 600.1H701.5M697.5 553.0H701.5" stroke="#5a5a5a" stroke-width="1.8" fill="none"/>
<text x="721.4" y="1044.0" font-size="15" text-anchor="middle" fill="#222" stroke="#222" stroke-width="0.45">0.35</text>
<text x="841.2" y="1044.0" font-size="15" text-anchor="middle" fill="#222" stroke="#222" stroke-width="0.45">0.4</text>
<text x="961.0" y="1044.0" font-size="15" text-anchor="middle" fill="#222" stroke="#222" stroke-width="0.45">0.45</text>
<text x="1080.7" y="1044.0" font-size="15" text-anchor="middle" fill="#222" stroke="#222" stroke-width="0.45">0.5</text>
<text x="1200.5" y="1044.0" font-size="15" text-anchor="middle" fill="#222" stroke="#222" stroke-width="0.45">0.55</text>
<text x="690.5" y="1029.0" font-size="15" text-anchor="end" fill="#222" stroke="#222" stroke-width="0.45">3</text>
<text x="690.5" y="981.9" font-size="15" text-anchor="end" fill="#222" stroke="#222" stroke-width="0.45">3.5</text>
<text x="690.5" y="934.8" font-size="15" text-anchor="end" fill="#222" stroke="#222" stroke-width="0.45">4</text>
<text x="690.5" y="887.7" font-size="15" text-anchor="end" fill="#222" stroke="#222" stroke-width="0.45">4.5</text>
<text x="690.5" y="840.6" font-size="15" text-anchor="end" fill="#222" stroke="#222" stroke-width="0.45">5</text>
<text x="690.5" y="793.5" font-size="15" text-anchor="end" fill="#222" stroke="#222" stroke-width="0.45">5.5</text>
<text x="690.5" y="746.4" font-size="15" text-anchor="end" fill="#222" stroke="#222" stroke-width="0.45">6</text>
<text x="690.5" y="699.3" font-size="15" text-anchor="end" fill="#222" stroke="#222" stroke-width="0.45">6.5</text>
<text x="690.5" y="652.2" font-size="15" text-anchor="end" fill="#222" stroke="#222" stroke-width="0.45">7</text>
<text x="690.5" y="605.1" font-size="15" text-anchor="end" fill="#222" stroke="#222" stroke-width="0.45">7.5</text>
<text x="690.5" y="558.0" font-size="15" text-anchor="end" fill="#222" stroke="#222" stroke-width="0.45">8</text>
<path d="M725.6 573.3L733.8 580.2L741.9 587.1L750.1 593.8L758.3 600.4L766.5 606.9L774.6 613.3L782.8 619.6L791.0 625.8L799.1 632.0L807.3 638.0L815.5 643.9L823.7 649.8L831.8 655.5L840.0 661.2L848.2 666.8L856.4 672.2L864.5 677.7L872.7 683.0L880.9 688.2L889.0 693.4L897.2 698.5L905.4 703.5L913.6 708.4L921.7 713.3L929.9 718.0L938.1 722.7L946.2 727.4L954.4 731.9L962.6 736.4L970.8 740.8L978.9 745.2L987.1 749.5L995.3 753.7L1003.4 757.9L1011.6 762.0L1019.8 766.0L1028.0 769.9L1036.1 773.9L1044.3 777.7L1052.5 781.5L1060.7 785.2L1068.8 788.9L1077.0 792.5L1085.2 796.1L1093.3 799.6L1101.5 803.0L1109.7 806.4L1117.9 809.8L1126.0 813.1L1134.2 816.3 L1134.2 892.8L1126.0 890.1L1117.9 887.4L1109.7 884.6L1101.5 881.7L1093.3 878.9L1085.2 875.9L1077.0 873.0L1068.8 869.9L1060.7 866.9L1052.5 863.8L1044.3 860.6L1036.1 857.4L1028.0 854.1L1019.8 850.8L1011.6 847.4L1003.4 844.0L995.3 840.5L987.1 836.9L978.9 833.3L970.8 829.7L962.6 825.9L954.4 822.2L946.2 818.3L938.1 814.4L929.9 810.4L921.7 806.4L913.6 802.3L905.4 798.2L897.2 793.9L889.0 789.6L880.9 785.3L872.7 780.8L864.5 776.3L856.4 771.7L848.2 767.1L840.0 762.3L831.8 757.5L823.7 752.6L815.5 747.7L807.3 742.6L799.1 737.5L791.0 732.3L782.8 727.0L774.6 721.6L766.5 716.1L758.3 710.6L750.1 704.9L741.9 699.2L733.8 693.3L725.6 687.4 Z" fill="#ff3a3a" fill-opacity="0.46"/>
<path d="M875.5 572.4L882.8 579.2L890.1 586.0L897.4 592.6L904.7 599.2L912.0 605.7L919.3 612.0L926.6 618.3L933.9 624.5L941.2 630.5L948.5 636.5L955.8 642.4L963.1 648.3L970.3 654.0L977.6 659.7L984.9 665.2L992.2 670.7L999.5 676.1L1006.8 681.4L1014.1 686.7L1021.4 691.9L1028.7 697.0L1036.0 702.0L1043.3 706.9L1050.6 711.8L1057.9 716.6L1065.2 721.4L1072.5 726.0L1079.8 730.6L1087.1 735.1L1094.4 739.6L1101.7 744.0L1109.0 748.3L1116.3 752.6L1123.6 756.8L1130.9 761.0L1138.2 765.0L1145.5 769.1L1152.7 773.0L1160.0 776.9L1167.3 780.8L1174.6 784.6L1181.9 788.3L1189.2 792.0L1196.5 795.6L1203.8 799.2L1211.1 802.7L1218.4 806.2L1225.7 809.6L1233.0 813.0L1240.3 816.3 L1240.3 893.9L1233.0 891.0L1225.7 888.0L1218.4 885.1L1211.1 882.0L1203.8 878.9L1196.5 875.8L1189.2 872.7L1181.9 869.5L1174.6 866.2L1167.3 863.0L1160.0 859.6L1152.7 856.2L1145.5 852.8L1138.2 849.4L1130.9 845.8L1123.6 842.3L1116.3 838.7L1109.0 835.0L1101.7 831.3L1094.4 827.5L1087.1 823.7L1079.8 819.8L1072.5 815.9L1065.2 812.0L1057.9 807.9L1050.6 803.9L1043.3 799.7L1036.0 795.5L1028.7 791.3L1021.4 787.0L1014.1 782.6L1006.8 778.2L999.5 773.7L992.2 769.2L984.9 764.5L977.6 759.9L970.3 755.1L963.1 750.3L955.8 745.5L948.5 740.5L941.2 735.5L933.9 730.5L926.6 725.3L919.3 720.1L912.0 714.9L904.7 709.5L897.4 704.1L890.1 698.6L882.8 693.0L875.5 687.4 Z" fill="none" stroke="#3a3a3a" stroke-width="1.7"/>
<polyline points="726.5,742.1 729.0,744.2 731.5,746.3 734.0,748.5 736.5,750.6 739.1,752.6 741.6,754.7 744.1,756.8 746.6,758.8 749.1,760.9 751.6,762.9 754.1,764.9 756.7,766.9 759.2,768.9 761.7,770.8 764.2,772.8 766.7,774.7 769.2,776.7 771.7,778.6 774.3,780.5 776.8,782.4 779.3,784.3 781.8,786.1 784.3,788.0 786.8,789.8 789.3,791.7 791.9,793.5 794.4,795.3 796.9,797.1 799.4,798.9 801.9,800.7 804.4,802.4 807.0,804.2 809.5,805.9 812.0,807.7 814.5,809.4 817.0,811.1 819.5,812.8 822.0,814.5 824.6,816.2 827.1,817.8 829.6,819.5 832.1,821.1 834.6,822.8 837.1,824.4 839.6,826.0 842.2,827.6 844.7,829.2 847.2,830.8 849.7,832.4 852.2,834.0 854.7,835.6 857.2,837.1 859.8,838.7 862.3,840.2 864.8,841.7 867.3,843.2 869.8,844.8 872.3,846.3 874.8,847.7 877.4,849.2" fill="none" stroke="#e81515" stroke-width="2.4" stroke-dasharray="6 4" />
<polyline points="877.4,849.2 883.5,852.8 889.6,856.3 895.7,859.8 901.7,863.2 907.8,866.6 913.9,869.9 920.0,873.2 926.1,876.4 932.2,879.6 938.3,882.7 944.4,885.9 950.5,888.9 956.6,892.0 962.7,895.0 968.8,897.9 974.9,900.8 981.0,903.7 987.1,906.5 993.2,909.4 999.3,912.1 1005.4,914.9 1011.5,917.6 1017.6,920.2 1023.7,922.9 1029.7,925.5 1035.8,928.1 1041.9,930.6 1048.0,933.1 1054.1,935.6 1060.2,938.1 1066.3,940.5 1072.4,942.9 1078.5,945.3 1084.6,947.6 1090.7,949.9 1096.8,952.2 1102.9,954.5 1109.0,956.7 1115.1,958.9 1121.2,961.1 1127.3,963.3 1133.4,965.4 1139.5,967.5 1145.6,969.6 1151.7,971.7 1157.7,973.7 1163.8,975.8 1169.9,977.8 1176.0,979.7 1182.1,981.7 1188.2,983.6 1194.3,985.6 1200.4,987.5 1206.5,989.3 1212.6,991.2 1218.7,993.0 1224.8,994.9 1230.9,996.7 1237.0,998.5 1243.1,1000.2" fill="none" stroke="#e81515" stroke-width="2.4" />
<rect x="870.8" y="856.5" width="10.5" height="10.5" fill="#e81515"/>
<rect x="932.2" y="841.8" width="10.5" height="10.5" fill="#e81515"/>
<rect x="919.0" y="914.8" width="10.5" height="10.5" fill="#e81515"/>
<rect x="985.8" y="866.5" width="10.5" height="10.5" fill="#e81515"/>
<rect x="1171.4" y="961.1" width="8.7" height="8.7" fill="none" stroke="#e81515" stroke-width="1.8"/>
<rect x="1181.6" y="1007.6" width="8.7" height="8.7" fill="none" stroke="#e81515" stroke-width="1.8"/>
<rect x="1238.2" y="994.9" width="8.7" height="8.7" fill="none" stroke="#e81515" stroke-width="1.8"/>
<path d="M723.4 573 Q723.4 566.7 729 566.7 H1129 Q1133.8 566.7 1133.8 571 M929.1 566.7 V556.4" stroke="#505050" stroke-width="2.4" fill="none"/>
<path d="M724 573.9 Q718.6 573.9 718.6 579 V887 Q718.6 891.9 724 891.9 M708.5 732.7 H718.6" stroke="#505050" stroke-width="2.4" fill="none"/>
<path d="M862 834.3 Q853.2 834.3 853.2 839 V1008 Q853.2 1012.7 862 1012.7 M841.8 924.4 H853.2" stroke="#505050" stroke-width="2.4" fill="none"/>
<path d="M869.7 993 Q869.7 999.2 875 999.2 H1241 Q1246.8 999.2 1246.8 993 M1058.5 999.2 V1008" stroke="#505050" stroke-width="2.4" fill="none"/>
<text x="888.6" y="556.0" font-size="19" fill="#e81515" text-anchor="start" font-weight="bold" font-style="italic" textLength="38.3" lengthAdjust="spacingAndGlyphs" >&#949;<tspan font-size="16.0" dy="2.5">pore</tspan></text>
<text x="674.0" y="723.4" font-size="18" fill="#e81515" text-anchor="start" font-weight="bold" font-style="italic" textLength="37.8" lengthAdjust="spacingAndGlyphs" >&#964;<tspan font-size="16.0" dy="3.8">pore</tspan></text>
<text x="769.4" y="911.0" font-size="17" fill="#e81515" text-anchor="start" font-weight="bold" font-style="italic" textLength="73.6" lengthAdjust="spacingAndGlyphs" >&#964;<tspan font-size="14.5" dy="5.0">pore+CBD</tspan></text>
<text x="1022.2" y="1016.0" font-size="17" fill="#e81515" text-anchor="start" font-weight="bold" font-style="italic" textLength="72.3" lengthAdjust="spacingAndGlyphs" >&#949;<tspan font-size="14.5" dy="4.0">pore+CBD</tspan></text>
<path d="M870.0 631.9 H795.3" stroke="#e81515" stroke-width="4.2"/>
<path d="M782.3 631.9 L796.3 625.4 L796.3 638.4 Z" fill="#e81515"/>
<text x="793.4" y="616.0" font-size="15" fill="#e81515" text-anchor="middle" font-weight="normal" font-style="normal" font-family='"Liberation Sans", sans-serif' >&#215;</text>
<path d="M805.5 610 H862.4" stroke="#e81515" stroke-width="1.6"/>
<text x="818.6" y="603.0" font-size="12" fill="#e81515" text-anchor="start" font-weight="bold" font-style="italic" textLength="28.4" lengthAdjust="spacingAndGlyphs" >&#949;<tspan font-size="11.0" dy="2.5">pore</tspan></text>
<text x="805.5" y="622.5" font-size="12" fill="#e81515" text-anchor="start" font-weight="bold" font-style="italic" textLength="54.7" lengthAdjust="spacingAndGlyphs" >&#949;<tspan font-size="11.0" dy="2.5">pore+CBD</tspan></text>
<path d="M1085.8 944.7 V846.8" stroke="#e81515" stroke-width="4.2"/>
<path d="M1085.8 835.8 L1079.0 847.8 L1092.6 847.8 Z" fill="#e81515"/>
<text x="1092.0" y="927.3" font-size="17" fill="#e81515" text-anchor="start" font-weight="bold" font-style="normal" textLength="55.8" lengthAdjust="spacingAndGlyphs" >&#215; <tspan font-style="italic">k</tspan>(<tspan font-style="italic">&#969;</tspan>) =</text>
<path d="M1152.9 921.8 H1273.5" stroke="#e81515" stroke-width="1.8"/>
<text x="1152.9" y="915.5" font-size="13" fill="#e81515" text-anchor="start" font-weight="bold" font-style="italic" textLength="7.0" lengthAdjust="spacingAndGlyphs" >&#964;</text>
<text x="1157.5" y="917.5" font-size="10" fill="#e81515" text-anchor="start" font-weight="bold" font-style="italic" textLength="23.5" lengthAdjust="spacingAndGlyphs" >pore</text>
<text x="1160.5" y="907.9" font-size="10" fill="#e81515" text-anchor="start" font-weight="bold" font-style="italic" textLength="88.8" lengthAdjust="spacingAndGlyphs" >w/ generated CBD</text>
<text x="1250.5" y="917.0" font-size="15" fill="#e81515" text-anchor="start" font-weight="bold" font-style="normal" textLength="21.5" lengthAdjust="spacingAndGlyphs" >(<tspan font-style="italic">&#969;</tspan>)</text>
<text x="1183.4" y="935.0" font-size="12" fill="#e81515" text-anchor="start" font-weight="bold" font-style="italic" textLength="55.8" lengthAdjust="spacingAndGlyphs" >&#964;<tspan font-size="11.0" dy="3.0">pore+CBD</tspan></text>
<text x="881.0" y="744.2" font-size="19" fill="#111" text-anchor="middle" font-weight="bold" font-style="italic" textLength="114.5" lengthAdjust="spacingAndGlyphs" transform="rotate(30.40 881.0 738.5)" >(&#949;<tspan font-size="16" dy="3">pore</tspan><tspan dy="-3">, &#964;</tspan><tspan font-size="16" dy="3">pore</tspan><tspan dy="-3">)</tspan></text>
<text x="1057.0" y="771.1" font-size="17" fill="#111" text-anchor="middle" font-weight="bold" font-style="italic" textLength="153.0" lengthAdjust="spacingAndGlyphs" transform="rotate(30.80 1057.0 766.0)" >(&#949;<tspan font-size="14" dy="3">pore+CBD</tspan><tspan dy="-3">, &#964;</tspan><tspan font-size="14" dy="3">pore</tspan><tspan dy="-3">)</tspan></text>
<text x="1175.8" y="805.6" font-size="17.5" fill="#111" text-anchor="middle" font-weight="bold" font-style="italic" transform="rotate(30.00 1175.8 800.4)" >k(&#969;<tspan font-family="Liberation Sans" font-size="17.5" font-weight="normal">&#8201;&#8594;&#8201;</tspan>1)</text>
<text x="1175.8" y="855.5" font-size="17.5" fill="#111" text-anchor="middle" font-weight="bold" font-style="italic" transform="rotate(29.00 1175.8 850.2)" >k(&#969;<tspan font-family="Liberation Sans" font-size="17.5" font-weight="normal">&#8201;&#8594;&#8201;</tspan>0)</text>
<text x="1156.5" y="624.4" font-size="21" fill="#000" text-anchor="middle" font-weight="bold" font-style="normal" textLength="158.7" lengthAdjust="spacingAndGlyphs" >CBD morphology</text>
<text x="1156.5" y="650.8" font-size="21" fill="#000" text-anchor="middle" font-weight="bold" font-style="normal" >impact&#160; is</text>
<text x="1156.5" y="676.0" font-size="21" fill="#000" text-anchor="middle" font-weight="bold" font-style="normal" >considered</text>
<rect x="1208.0" y="567.2" width="48.0" height="28.2" fill="#fff" stroke="#333" stroke-width="1.8"/>
<text x="1232.0" y="588.0" font-size="17.5" fill="#111" text-anchor="middle" font-weight="normal" font-style="normal" >(d)</text>
<text x="984.5" y="1065.0" font-size="16" fill="#1a1a1a" text-anchor="middle" font-weight="normal" font-style="normal" textLength="66.0" lengthAdjust="spacingAndGlyphs" stroke="#1a1a1a" stroke-width="0.35">Porosity <tspan font-style="italic">&#1013;</tspan></text>
<text x="662.5" y="788.7" font-size="16" fill="#1a1a1a" text-anchor="middle" font-weight="normal" font-style="normal" textLength="122.0" lengthAdjust="spacingAndGlyphs" transform="rotate(-90.00 662.5 788.7)" stroke="#1a1a1a" stroke-width="0.35">Tortuosity factor &#964;</text>
</svg>
</body></html>
